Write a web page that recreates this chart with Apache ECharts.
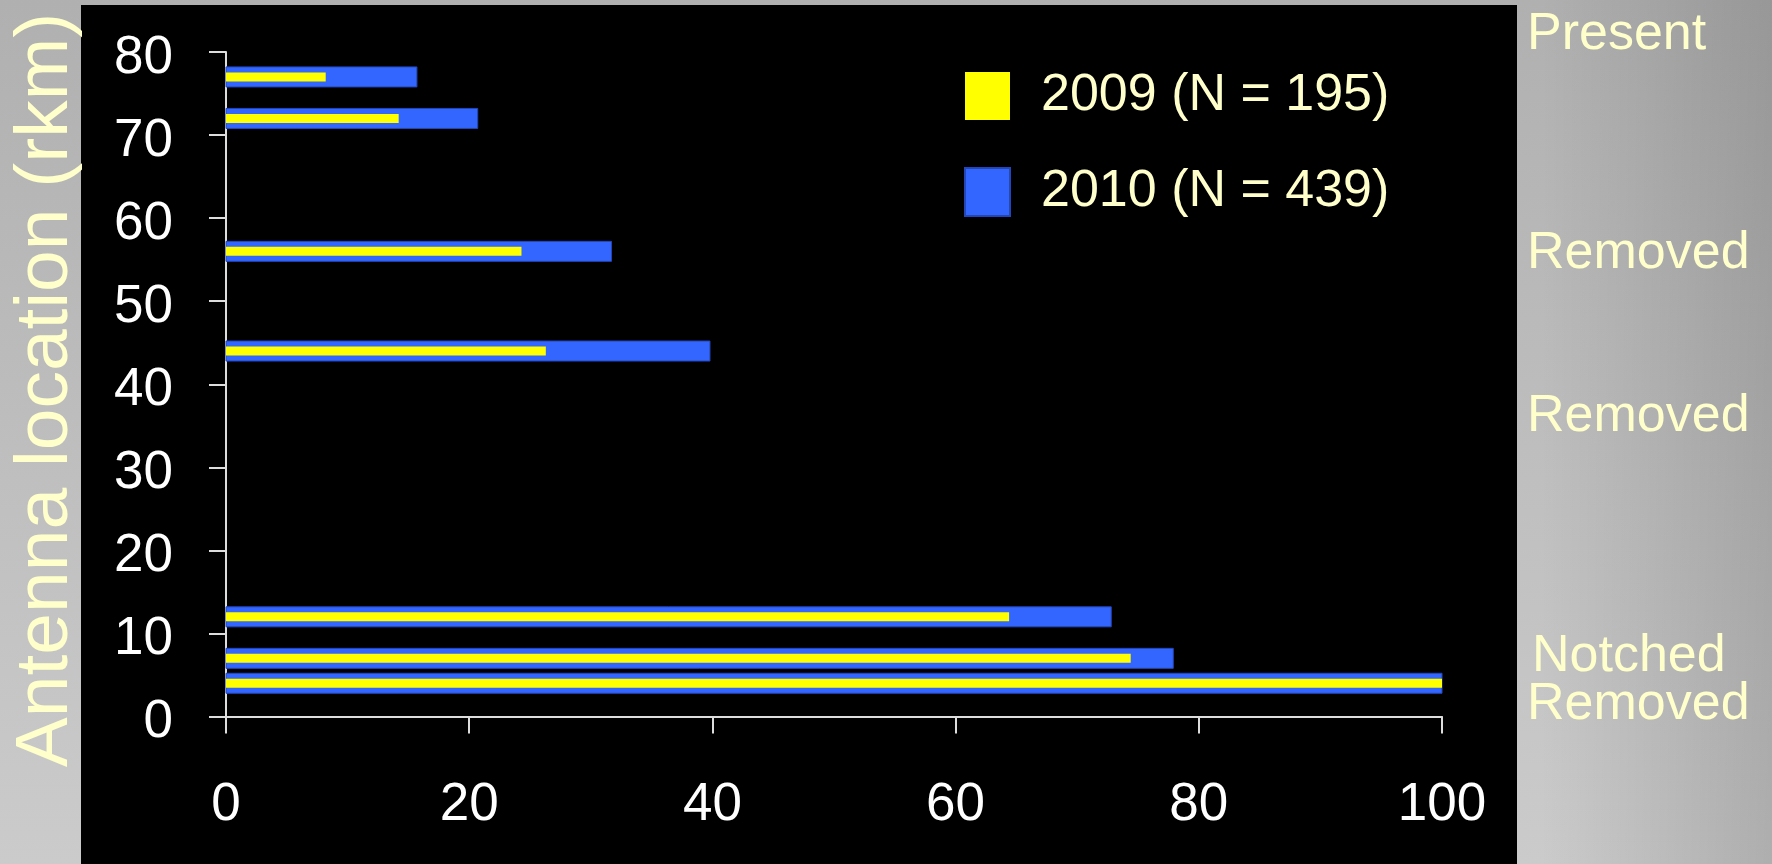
<!DOCTYPE html>
<html>
<head>
<meta charset="utf-8">
<script src="https://cdn.jsdelivr.net/npm/echarts@6/dist/echarts.min.js"></script>
<style>
  html, body { margin: 0; padding: 0; width: 1772px; height: 864px; overflow: hidden; }
  body {
    background:
      linear-gradient(to right, rgba(0,0,0,0) 1540px, rgba(0,0,0,0.14) 1772px),
      linear-gradient(to bottom, #b0b0b0 0px, #cbcbcb 864px);
  }
  #panel { position: absolute; left: 81px; top: 5px; width: 1436px; height: 859px; background: #000; }
  #chart { position: absolute; left: 0; top: 0; width: 1772px; height: 864px; }
</style>
</head>
<body>
<div id="panel"></div>
<div id="chart"></div>
<script>
// Antenna locations (rkm)
var antennaRkm = [4, 7, 12, 44, 56, 72, 77];
// Cumulative percentage values
var values2009 = [100, 74.4, 64.4, 26.3, 24.3, 14.2, 8.2];
var values2010 = [100, 77.9, 72.8, 39.8, 31.7, 20.7, 15.7];
var seriesNames = ['2009 (N = 195)', '2010 (N = 439)'];
var xTicks = [0, 20, 40, 60, 80, 100];
var yTicks = [0, 10, 20, 30, 40, 50, 60, 70, 80];
var yAxisTitle = 'Antenna location (rkm)';
var damLabels = ['Present', 'Removed', 'Removed', 'Notched', 'Removed'];

var FONT = "'Liberation Sans', Arial, Helvetica, sans-serif";
var CREAM = '#FFFFCC';

function pairs(vals) {
  return antennaRkm.map(function (r, i) { return [r, vals[i]]; });
}

function makeRender(thickness) {
  return function (params, api) {
    var y = api.value(0);
    var v = api.value(1);
    var start = api.coord([0, y]);
    var end = api.coord([v, y]);
    return {
      type: 'rect',
      shape: { x: start[0], y: start[1] - thickness / 2, width: end[0] - start[0], height: thickness },
      style: api.style()
    };
  };
}

var chart = echarts.init(document.getElementById('chart'), null, { renderer: 'canvas' });

var labelPos = [
  { x: 1527, y: 35 },
  { x: 1527, y: 254 },
  { x: 1527, y: 417 },
  { x: 1532, y: 657 },
  { x: 1527, y: 705 }
];

var graphics = [{
  type: 'text',
  x: 46, y: 390,
  rotation: Math.PI / 2,
  style: { text: yAxisTitle, fill: CREAM, font: "75px " + FONT, align: 'center', verticalAlign: 'middle' }
}];
damLabels.forEach(function (t, i) {
  graphics.push({
    type: 'text', x: labelPos[i].x, y: labelPos[i].y,
    style: { text: t, fill: CREAM, font: "52px " + FONT, align: 'left', verticalAlign: 'middle' }
  });
});

chart.setOption({
  animation: false,
  backgroundColor: 'transparent',
  textStyle: { fontFamily: FONT },
  grid: { left: 226, right: 330, top: 52, bottom: 147.5, containLabel: false },
  legend: {
    left: 964, top: 70, padding: 0,
    orient: 'vertical',
    itemWidth: 45, itemHeight: 48, itemGap: 44,
    data: [{ name: seriesNames[0], icon: 'rect' }, { name: seriesNames[1], icon: 'rect' }],
    textStyle: { color: CREAM, fontSize: 52, fontFamily: FONT, padding: [8, 0, 0, 26] }
  },
  xAxis: {
    type: 'value', min: xTicks[0], max: xTicks[xTicks.length - 1], interval: 20,
    splitLine: { show: false },
    axisLine: { show: true, lineStyle: { color: '#dddddd', width: 2 } },
    axisTick: { show: true, length: 17, lineStyle: { color: '#dddddd', width: 2 } },
    axisLabel: { color: '#ffffff', fontSize: 53, fontFamily: FONT, margin: 62 }
  },
  yAxis: {
    type: 'value', min: yTicks[0], max: yTicks[yTicks.length - 1], interval: 10,
    splitLine: { show: false },
    axisLine: { show: true, lineStyle: { color: '#dddddd', width: 2 } },
    axisTick: { show: true, length: 17, lineStyle: { color: '#dddddd', width: 2 } },
    axisLabel: { color: '#ffffff', fontSize: 53, fontFamily: FONT, margin: 53, verticalAlign: 'top', lineHeight: 12 }
  },
  graphic: graphics,
  series: [
    {
      name: seriesNames[1], type: 'custom', renderItem: makeRender(20),
      encode: { x: 1, y: 0 }, data: pairs(values2010),
      itemStyle: { color: '#3366FF', borderColor: '#2447b8', borderWidth: 1 }, z: 2
    },
    {
      name: seriesNames[0], type: 'custom', renderItem: makeRender(9),
      encode: { x: 1, y: 0 }, data: pairs(values2009),
      itemStyle: { color: '#FFFF00' }, z: 3
    }
  ]
});
</script>
</body>
</html>
